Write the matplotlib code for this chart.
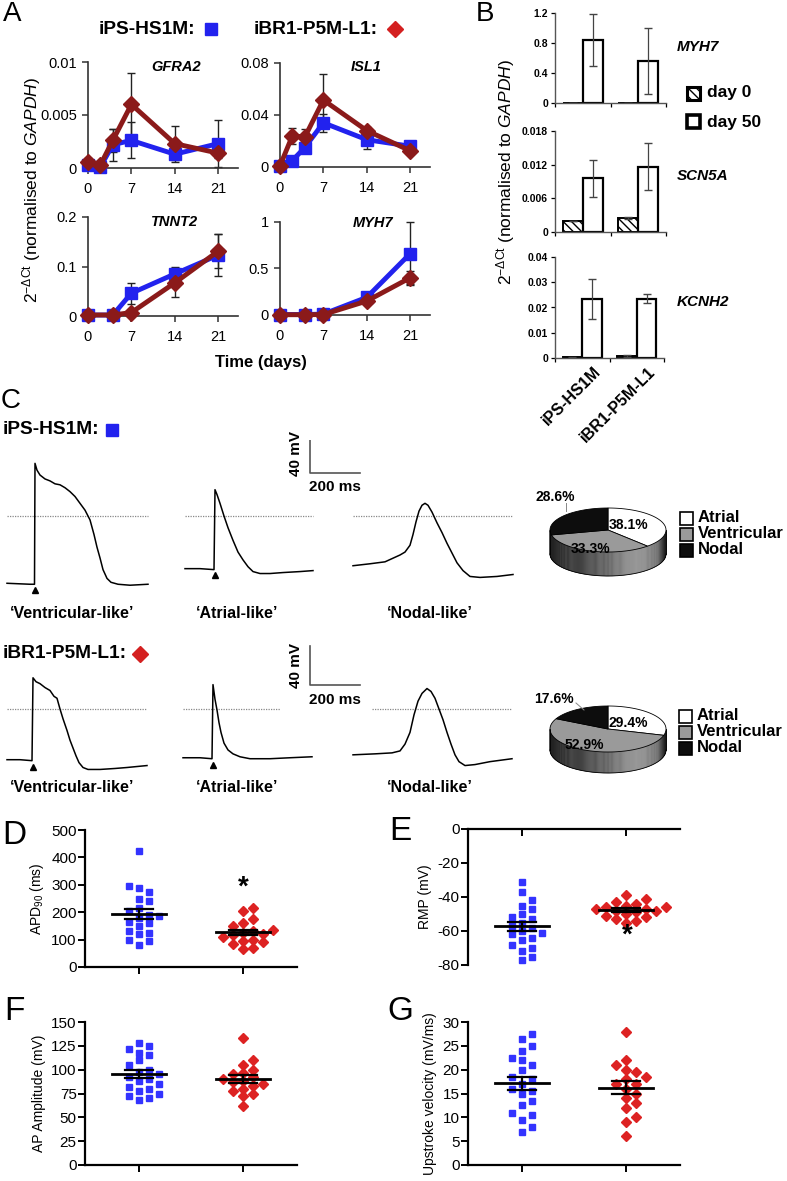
import numpy as np
import matplotlib
matplotlib.use("Agg")
import matplotlib.pyplot as plt
from matplotlib.patches import Polygon, Rectangle

plt.rcParams["font.family"] = ["Liberation Sans", "DejaVu Sans"]
plt.rcParams["mathtext.fontset"] = "custom"
plt.rcParams["mathtext.rm"] = "Liberation Sans"
plt.rcParams["mathtext.it"] = "Liberation Sans:italic"
plt.rcParams["mathtext.bf"] = "Liberation Sans:bold"
plt.rcParams["hatch.linewidth"] = 1.0
plt.rcParams["axes.unicode_minus"] = False

# ---------------- data ----------------
# panel A: time courses (days)
days_a = [0, 2, 4, 7, 14, 21]
days_b = [0, 4, 7, 14, 21]
gfra2_ips = [0.0003, 0.0001, 0.0022, 0.0026, 0.0013, 0.0023]
gfra2_ips_err = [0.0002, 0.0001, 0.0015, 0.0017, 0.0005, 0.0022]
gfra2_ibr = [0.0006, 0.0003, 0.0026, 0.0060, 0.0023, 0.0014]
gfra2_ibr_err = [0.0003, 0.0002, 0.0011, 0.0030, 0.0017, 0.0005]
isl1_ips = [0.0005, 0.005, 0.015, 0.034, 0.021, 0.016]
isl1_ips_err = [0.0005, 0.002, 0.004, 0.007, 0.007, 0.002]
isl1_ibr = [0.001, 0.024, 0.023, 0.0515, 0.028, 0.0125]
isl1_ibr_err = [0.001, 0.006, 0.006, 0.020, 0.003, 0.002]
tnnt2_ips = [0.002, 0.002, 0.046, 0.085, 0.123]
tnnt2_ips_err = [0.001, 0.001, 0.021, 0.015, 0.043]
tnnt2_ibr = [0.002, 0.002, 0.007, 0.067, 0.131]
tnnt2_ibr_err = [0.001, 0.001, 0.005, 0.029, 0.034]
myh7_ips = [0.005, 0.005, 0.01, 0.19, 0.66]
myh7_ips_err = [0.003, 0.003, 0.005, 0.03, 0.34]
myh7_ibr = [0.003, 0.003, 0.005, 0.15, 0.40]
myh7_ibr_err = [0.002, 0.002, 0.003, 0.02, 0.07]

# panel B: day 0 / day 50 expression
lines_b = ["iPS-HS1M", "iBR1-P5M-L1"]
b_myh7_d0 = [0.0, 0.0]
b_myh7_d0_err = [0.0, 0.0]
b_myh7_d50 = [0.84, 0.56]
b_myh7_d50_err = [0.35, 0.44]
b_scn5a_d0 = [0.0019, 0.0025]
b_scn5a_d0_err = [0.0, 0.0002]
b_scn5a_d50 = [0.0096, 0.0116]
b_scn5a_d50_err = [0.0033, 0.0042]
b_kcnh2_d0 = [0.0002, 0.0008]
b_kcnh2_d0_err = [0.0001, 0.0003]
b_kcnh2_d50 = [0.0235, 0.0235]
b_kcnh2_d50_err = [0.0079, 0.0018]

# panel C: action potential traces (ms, mV)
ips_vent_t = [0, 92, 110, 112, 120, 132, 152, 172, 192, 212, 232, 252, 272, 292, 312, 332, 348,
              360, 372, 384, 400, 416, 444, 492, 564]
ips_vent_v = [-69, -70, -70, 54, 47, 42, 38, 36, 33, 32, 29, 25, 20, 13, 6, -4, -19,
              -32, -43, -55, -64, -68, -70, -71, -70]
ips_atr_t = [0, 60, 116, 120, 128, 140, 156, 172, 192, 212, 232, 252, 272, 300, 340, 392, 460, 512]
ips_atr_v = [-54, -54, -55, 27, 22, 13, 0, -12, -25, -37, -45, -52, -57, -59, -59, -58, -57, -56]
ips_nod_t = [0, 68, 128, 188, 208, 228, 240, 252, 264, 276, 288, 300, 316, 336, 356, 376, 396,
             416, 440, 468, 508, 576, 640]
ips_nod_v = [-51, -49, -47, -40, -37, -30, -19, -6, 5, 11, 13, 11, 4, -7, -17, -28, -38,
             -48, -56, -62, -63, -62, -60]
ibr_vent_t = [0, 52, 100, 104, 116, 132, 152, 172, 188, 200, 212, 224, 240, 252, 264, 276, 288,
              304, 324, 372, 432, 480, 560]
ibr_vent_v = [-52, -52, -53, 32, 28, 26, 22, 19, 13, 11, 0, -10, -22, -32, -40, -48, -55,
              -60, -62, -62, -61, -60, -58]
ibr_atr_t = [0, 68, 116, 120, 128, 136, 144, 152, 164, 180, 200, 228, 268, 348, 428, 516]
ibr_atr_v = [-50, -50, -51, 25, 10, -1, -14, -24, -35, -42, -46, -49, -51, -51, -50, -49]
ibr_nod_t = [0, 88, 156, 188, 208, 228, 244, 260, 276, 296, 312, 328, 344, 360, 376, 392, 408,
             424, 448, 488, 548, 636]
ibr_nod_v = [-47, -46, -45, -43, -36, -24, -6, 8, 16, 21, 18, 11, 0, -11, -24, -36, -47,
             -54, -58, -57, -54, -51]

pie_labels = ["Atrial", "Ventricular", "Nodal"]
pie_ips = [38.1, 33.3, 28.6]
pie_ibr = [29.4, 52.9, 17.6]

# panels D-G: single-cell parameters
apd_ips = [425, 295, 290, 275, 250, 240, 215, 205, 190, 185, 180, 165, 160, 150, 130, 125, 120, 100, 95, 80]
apd_ibr = [215, 205, 175, 160, 150, 135, 130, 125, 120, 115, 110, 100, 95, 90, 85, 70, 65]
rmp_ips = [-31, -37, -42, -45, -47, -50, -52, -53, -55, -57, -58, -60, -61, -62, -64, -65, -68, -70, -72, -75, -77]
rmp_ibr = [-39, -41, -43, -44, -45, -46, -46, -47, -47, -48, -48, -49, -50, -51, -52, -53, -54, -55]
amp_ips = [128, 125, 122, 118, 115, 110, 105, 100, 98, 95, 92, 90, 88, 85, 82, 80, 78, 75, 72, 70, 68]
amp_ibr = [133, 110, 105, 100, 97, 95, 92, 90, 88, 87, 85, 83, 80, 78, 75, 72, 62]
upv_ips = [27.5, 26.5, 25, 24, 22.5, 22, 21, 20, 18.5, 18, 17, 16, 15.5, 15, 13.5, 12.5, 11, 10.5, 9.5, 8, 7]
upv_ibr = [28, 22, 21, 20, 19.5, 18.5, 18, 17, 17, 16, 15, 14, 13, 12, 10, 9, 6]

# ---------------- styles ----------------
BLUE_A = "#2222ee"
RED_A = "#8b1a1a"
BLUE_S = "#3333ff"
RED_S = "#dd2222"

W, H = 787, 1181
fig = plt.figure(figsize=(W / 100, H / 100), dpi=100)


def px_axes(l, t, r, b):
    return fig.add_axes([l / W, 1 - b / H, (r - l) / W, (b - t) / H])


def ftext(x, y, s, **kw):
    kw.setdefault("ha", "center")
    kw.setdefault("va", "center")
    fig.text(x / W, 1 - y / H, s, **kw)


def plain_spines(ax, lw=1.2, color="#333333"):
    for s in ["top", "right"]:
        ax.spines[s].set_visible(False)
    for s in ["left", "bottom"]:
        ax.spines[s].set_linewidth(lw)
        ax.spines[s].set_color(color)


# overlay axes in pixel coordinates (pies, legends, scale bars)
ov = fig.add_axes([0, 0, 1, 1])
ov.set_xlim(0, W)
ov.set_ylim(H, 0)
ov.axis("off")
ov.patch.set_alpha(0)

# ---------------- panel A ----------------
def a_panel(box, xb, vb, eb, xr, vr, er, ymax, yticks, ylabels, gene, gene_xy):
    ax = px_axes(*box)
    ax.errorbar(xb, vb, yerr=eb, fmt="none", ecolor="#222222", elinewidth=1, capsize=3, clip_on=False, zorder=2)
    ax.errorbar(xr, vr, yerr=er, fmt="none", ecolor="#222222", elinewidth=1, capsize=3, clip_on=False, zorder=2)
    ax.plot(xb, vb, color=BLUE_A, lw=3.5, marker="s", ms=9, clip_on=False, zorder=3)
    ax.plot(xr, vr, color=RED_A, lw=3.5, marker="D", ms=8, clip_on=False, zorder=4)
    ax.set_xlim(0, 24.2)
    ax.set_ylim(0, ymax)
    ax.set_xticks([0, 7, 14, 21])
    ax.set_xticklabels(["0", "7", "14", "21"])
    ax.set_yticks(yticks)
    ax.set_yticklabels(ylabels)
    ax.tick_params(labelsize=10.5, length=4, width=1.1, color="#333333", pad=4)
    ax.tick_params(axis="x", pad=6)
    plain_spines(ax)
    ftext(gene_xy[0], gene_xy[1], gene, fontsize=10.5, fontweight="bold", style="italic")
    return ax


a_panel((88, 62, 238, 168), days_a, gfra2_ips, gfra2_ips_err, days_a, gfra2_ibr, gfra2_ibr_err,
        0.01, [0, 0.005, 0.01], ["0", "0.005", "0.01"], "GFRA2", (176, 67))
a_panel((280, 63, 430, 167), days_a, isl1_ips, isl1_ips_err, days_a, isl1_ibr, isl1_ibr_err,
        0.08, [0, 0.04, 0.08], ["0", "0.04", "0.08"], "ISL1", (366, 67))
a_panel((88, 217, 238, 316), days_b, tnnt2_ips, tnnt2_ips_err, days_b, tnnt2_ibr, tnnt2_ibr_err,
        0.2, [0, 0.1, 0.2], ["0", "0.1", "0.2"], "TNNT2", (175, 222))
a_panel((280, 222, 430, 315), days_b, myh7_ips, myh7_ips_err, days_b, myh7_ibr, myh7_ibr_err,
        1.0, [0, 0.5, 1.0], ["0", "0.5", "1"], "MYH7", (373, 223))

ftext(12, 14, "A", fontsize=20)
ftext(99, 29, "iPS-HS1M:", fontsize=13.8, fontweight="bold", ha="left")
ov.plot([211], [29], marker="s", ms=9, color=BLUE_A, ls="none")
ftext(254, 29, "iBR1-P5M-L1:", fontsize=13.8, fontweight="bold", ha="left")
ov.plot([395], [29], marker="D", ms=8, color="#d42020", ls="none")
ftext(261, 363, "Time (days)", fontsize=12, fontweight="bold")
ylab = r"2$^{-\Delta\mathrm{Ct}}$ (normalised to $\mathit{GAPDH}$)"
ftext(32, 190, ylab, fontsize=12.5, rotation=90)

# ---------------- panel B ----------------
def b_panel(box, d0, e0, d50, e50, ymax, yticks, ylabels, gene, gene_xy, xlabels=False):
    ax = px_axes(*box)
    x = np.arange(len(d0)) + 0.5
    bw = 0.36
    ax.bar(x - bw / 2, d0, bw, color="white", edgecolor="black", lw=1.4, hatch="\\\\\\\\")
    ax.bar(x + bw / 2, d50, bw, color="white", edgecolor="black", lw=1.6)
    ax.errorbar(x - bw / 2, d0, yerr=e0, fmt="none", ecolor="#444444", elinewidth=0.9, capsize=3)
    ax.errorbar(x + bw / 2, d50, yerr=e50, fmt="none", ecolor="#444444", elinewidth=0.9, capsize=3)
    ax.set_xlim(0, 2)
    ax.set_ylim(0, ymax)
    ax.set_yticks(yticks)
    ax.set_yticklabels(ylabels)
    ax.set_xticks([0, 1, 2])
    ax.set_xticklabels([])
    ax.tick_params(labelsize=7.5, length=3, width=0.9, pad=2)
    for lab in ax.get_yticklabels():
        lab.set_fontweight("bold")
    plain_spines(ax, lw=1.0, color="#555555")
    if xlabels:
        for xi, name in zip(x, lines_b):
            ax.text(xi + 0.2, -ymax * 0.06, name, rotation=45, ha="right", va="top",
                    rotation_mode="anchor", fontsize=11.5, fontweight="bold", transform=ax.transData)
    ftext(gene_xy[0], gene_xy[1], gene, fontsize=11, fontweight="bold", style="italic", ha="left")
    return ax


b_panel((555, 13, 666, 103), b_myh7_d0, b_myh7_d0_err, b_myh7_d50, b_myh7_d50_err,
        1.2, [0, 0.4, 0.8, 1.2], ["0", "0.4", "0.8", "1.2"], "MYH7", (677, 47))
b_panel((555, 131, 666, 232), b_scn5a_d0, b_scn5a_d0_err, b_scn5a_d50, b_scn5a_d50_err,
        0.018, [0, 0.006, 0.012, 0.018], ["0", "0.006", "0.012", "0.018"], "SCN5A", (677, 176))
b_panel((555, 257, 664, 358), b_kcnh2_d0, b_kcnh2_d0_err, b_kcnh2_d50, b_kcnh2_d50_err,
        0.04, [0, 0.01, 0.02, 0.03, 0.04], ["0", "0.01", "0.02", "0.03", "0.04"], "KCNH2", (677, 302),
        xlabels=True)

ftext(485, 14, "B", fontsize=20)
ftext(506, 172, ylab, fontsize=12.5, rotation=90)
ov.add_patch(Rectangle((687, 87), 13, 13, facecolor="white", edgecolor="black", lw=2.2, hatch="\\\\\\\\"))
ov.add_patch(Rectangle((687, 115), 13, 13, facecolor="white", edgecolor="black", lw=2.6))
ftext(707, 93, "day 0", fontsize=12.5, fontweight="bold", ha="left")
ftext(707, 122, "day 50", fontsize=12.5, fontweight="bold", ha="left")

# ---------------- panel C ----------------
MV_PX = 40 / 39.0   # mV per pixel
MS_PX = 4.0         # ms per pixel


def trace_row(top, bottom, zero_y, traces, zero_segs, bar_corner):
    ax = px_axes(0, top, 520, bottom)
    ax.set_xlim(0, 520 * MS_PX)
    ax.set_ylim(-(bottom - zero_y) * MV_PX, (zero_y - top) * MV_PX)
    ax.axis("off")
    for t0, t1 in zero_segs:
        ax.plot([t0, t1], [0, 0], color="#888888", lw=0.9, ls=(0, (1, 1)))
    for k, (off, t, v) in enumerate(traces):
        t = np.asarray(t) + off
        ax.plot(t, v, color="black", lw=1.1)
        if k < 2:
            ax.plot([t[3]], [v[0] - 7], marker="^", ms=4.5, color="black")
    bx, by = bar_corner
    ax.plot([bx, bx, bx + 200], [by + 40, by, by], color="#555555", lw=1.2)
    return ax


trace_row(440, 600, 516,
          [(28, ips_vent_t, ips_vent_v), (740, ips_atr_t, ips_atr_v), (1412, ips_nod_t, ips_nod_v)],
          [(28, 592), (740, 1252), (1412, 2052)], (1240, 43 * MV_PX))
trace_row(640, 800, 709,
          [(28, ibr_vent_t, ibr_vent_v), (732, ibr_atr_t, ibr_atr_v), (1412, ibr_nod_t, ibr_nod_v)],
          [(28, 588), (732, 1120), (1488, 2048)], (1240, 24 * MV_PX))

ftext(11, 401, "C", fontsize=20)
ftext(3, 430, "iPS-HS1M:", fontsize=13.8, fontweight="bold", ha="left")
ov.plot([112], [430], marker="s", ms=9, color=BLUE_A, ls="none")
ftext(3, 654, "iBR1-P5M-L1:", fontsize=13.8, fontweight="bold", ha="left")
ov.plot([140], [654], marker="D", ms=8, color="#d42020", ls="none")
for yy, cy in [(453, 487), (665, 700)]:
    ftext(296, yy, "40 mV", fontsize=11, fontweight="bold", rotation=90)
    ftext(335, cy, "200 ms", fontsize=11, fontweight="bold")
for yy in [613, 787]:
    ftext(72, yy, "\u2018Ventricular-like\u2019", fontsize=11.5, fontweight="bold")
    ftext(237, yy, "\u2018Atrial-like\u2019", fontsize=11.5, fontweight="bold")
    ftext(430, yy, "\u2018Nodal-like\u2019", fontsize=11.5, fontweight="bold")


def pie3d(cx, cy, rx, ry, depth, fracs):
    fracs = np.asarray(fracs) / np.sum(fracs)
    # side band (front half), shaded left-to-right
    th = np.linspace(np.pi, 2 * np.pi, 160)
    xs = cx + rx * np.cos(th)
    ys = cy - ry * np.sin(th)
    for i in range(len(th) - 1):
        f = (0.5 * (xs[i] + xs[i + 1]) - (cx - rx)) / (2 * rx)
        g = np.interp(f, [0, 0.35, 0.75, 0.93, 1], [0.12, 0.3, 0.6, 0.45, 0.1])
        quad = [(xs[i], ys[i]), (xs[i + 1], ys[i + 1]), (xs[i + 1], ys[i + 1] + depth), (xs[i], ys[i] + depth)]
        ov.add_patch(Polygon(quad, closed=True, facecolor=(g, g, g), edgecolor=(g, g, g), lw=0.3))
    ov.plot(xs, ys + depth, color="black", lw=0.6)
    ov.plot([cx - rx, cx - rx], [cy, cy + depth], color="black", lw=0.6)
    ov.plot([cx + rx, cx + rx], [cy, cy + depth], color="black", lw=0.6)
    colors = ["white", "#9a9a9a", "#0d0d0d"]
    edges = 90 - 360 * np.concatenate([[0], np.cumsum(fracs)])
    for k in range(len(fracs)):
        a = np.radians(np.linspace(edges[k], edges[k + 1], 80))
        pts = [(cx, cy)] + list(zip(cx + rx * np.cos(a), cy - ry * np.sin(a)))
        ov.add_patch(Polygon(pts, closed=True, facecolor=colors[k], edgecolor="black", lw=0.6))


def pie_legend(x, ys):
    colors = ["white", "#9a9a9a", "#0d0d0d"]
    for yy, c, name in zip(ys, colors, pie_labels):
        ov.add_patch(Rectangle((x, yy - 6.5), 13, 13, facecolor=c, edgecolor="black", lw=1.2))
        ftext(x + 18, yy, name, fontsize=12, fontweight="bold", ha="left")


pie3d(608, 530, 58, 22, 24, pie_ips)
ftext(629, 525, "%.1f%%" % pie_ips[0], fontsize=10, fontweight="bold")
ftext(591, 549, "%.1f%%" % pie_ips[1], fontsize=10, fontweight="bold")
ftext(555, 497, "%.1f%%" % pie_ips[2], fontsize=10, fontweight="bold")
ov.plot([566, 566], [503, 511], color="#888888", lw=0.7)
pie_legend(680, [518, 534, 550])

pie3d(608, 729, 58, 23, 21, pie_ibr)
ftext(628, 723, "%.1f%%" % pie_ibr[0], fontsize=10, fontweight="bold")
ftext(584, 745, "%.1f%%" % pie_ibr[1], fontsize=10, fontweight="bold")
ftext(554, 699, "%.1f%%" % pie_ibr[2], fontsize=10, fontweight="bold")
ov.plot([576, 584], [703, 710], color="#888888", lw=0.7)
pie_legend(679, [716, 732, 748])

# ---------------- panels D-G ----------------
def swarm(vals, center, step, spread):
    vals = np.asarray(vals, float)
    xs = np.zeros(len(vals))
    placed = []
    cands = [0.0]
    for j in range(1, 8):
        cands += [j * spread, -j * spread]
    for i in np.argsort(vals):
        for off in cands:
            ok = True
            for po, pv in placed:
                if abs(off - po) < spread * 0.99 and abs(vals[i] - pv) < step:
                    ok = False
                    break
            if ok:
                xs[i] = off
                break
        placed.append((xs[i], vals[i]))
    return center + xs


def scat_panel(box, ips, ibr, ylim, yticks, ylabel, top_axis=False):
    ax = px_axes(*box)
    l, t, r, b = box
    units_px = (ylim[1] - ylim[0]) / (b - t)
    step = 7.5 * units_px
    xl = (1 - 54 / 104.0, 2 + (r - l - 54 - 104) / 104.0)
    spread = 10 / 104.0
    for vals, pos, col, mk, ms in [(ips, 1, BLUE_S, "s", 5), (ibr, 2, RED_S, "D", 5)]:
        xs = swarm(vals, pos, step, spread)
        ax.plot(xs, vals, ls="none", marker=mk, ms=ms, color=col, mec=col, zorder=3, clip_on=False)
        m = np.mean(vals)
        sem = np.std(vals, ddof=1) / np.sqrt(len(vals))
        ax.plot([pos - 0.26, pos + 0.26], [m, m], color="black", lw=2, zorder=4)
        ax.plot([pos - 0.13, pos + 0.13], [m + sem, m + sem], color="black", lw=1.6, zorder=4)
        ax.plot([pos - 0.13, pos + 0.13], [m - sem, m - sem], color="black", lw=1.6, zorder=4)
        ax.plot([pos, pos], [m - sem, m + sem], color="black", lw=1.6, zorder=4)
    ax.set_xlim(*xl)
    ax.set_ylim(*ylim)
    ax.set_yticks(yticks)
    ax.set_xticks([1, 2])
    ax.set_xticklabels([])
    for s in ["top", "right"]:
        ax.spines[s].set_visible(False)
    for s in ["left", "bottom"]:
        ax.spines[s].set_linewidth(1.6)
    if top_axis:
        ax.spines["bottom"].set_position(("data", 0))
    ax.tick_params(labelsize=11, length=5, width=1.4, pad=1)
    ax.set_ylabel(ylabel, fontsize=10, labelpad=4)
    return ax


scat_panel((85, 830, 297, 967), apd_ips, apd_ibr, (0, 500), [0, 100, 200, 300, 400, 500],
           r"APD$_{90}$ (ms)")
scat_panel((468, 829, 680, 965), rmp_ips, rmp_ibr, (-80, 0), [-80, -60, -40, -20, 0],
           "RMP (mV)", top_axis=True)
scat_panel((85, 1022, 297, 1165), amp_ips, amp_ibr, (0, 150), [0, 25, 50, 75, 100, 125, 150],
           "AP Amplitude (mV)")
scat_panel((468, 1022, 680, 1165), upv_ips, upv_ibr, (0, 30), [0, 5, 10, 15, 20, 25, 30],
           "Upstroke velocity (mV/ms)")

ftext(14, 835, "D", fontsize=24)
ftext(400, 832, "E", fontsize=24)
ftext(14, 1012, "F", fontsize=24)
ftext(400, 1012, "G", fontsize=24)
ftext(243, 888, "*", fontsize=20, fontweight="bold")
ftext(627, 936, "*", fontsize=20, fontweight="bold")

fig.savefig("out.png", dpi=100)
